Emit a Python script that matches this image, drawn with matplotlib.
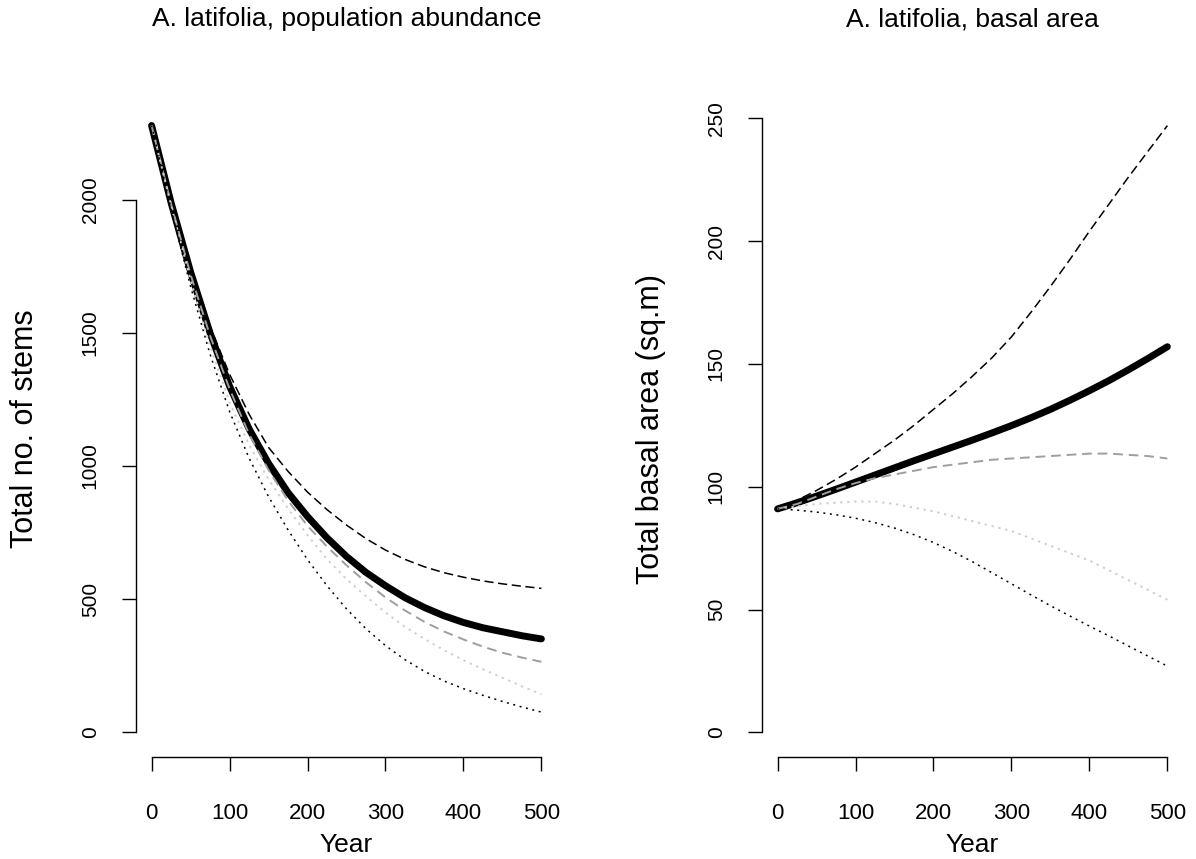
import matplotlib
matplotlib.use("Agg")
import matplotlib.pyplot as plt
import matplotlib.transforms as mtransforms

plt.rcParams['font.family'] = ['Liberation Sans', 'DejaVu Sans']

years = [0, 25, 50, 75, 100, 125, 150, 175, 200, 225, 250,
         275, 300, 325, 350, 375, 400, 425, 450, 475, 500]

# total number of stems per scenario
stems_base = [2280, 1990, 1730, 1500, 1300, 1140, 1010, 900, 810, 730, 660,
              600, 550, 505, 468, 437, 412, 392, 377, 362, 350]
stems_high = [2280, 1990, 1740, 1525, 1345, 1195, 1070, 980, 902, 836, 778,
              727, 684, 649, 621, 599, 582, 568, 557, 548, 540]
stems_mid = [2280, 1985, 1720, 1490, 1290, 1120, 985, 870, 775, 697, 627,
             563, 506, 457, 414, 378, 348, 321, 298, 280, 264]
stems_lowmid = [2280, 1980, 1700, 1450, 1240, 1080, 950, 840, 740, 650, 575,
                510, 450, 395, 350, 308, 270, 236, 204, 172, 142]
stems_low = [2280, 1965, 1675, 1420, 1205, 1030, 885, 760, 648, 550, 463,
             388, 325, 272, 228, 192, 163, 138, 115, 94, 75]

# total basal area per scenario
ba_base = [91, 93.5, 96.2, 99, 101.9, 104.8, 107.7, 110.6, 113.4, 116.2, 119,
           121.9, 124.9, 128.1, 131.5, 135.2, 139.1, 143.2, 147.6, 152.2, 157]
ba_high = [91, 94.5, 98.5, 103, 108, 113.5, 119, 125, 131.5, 138, 145,
           152.5, 161, 171, 181.5, 192.5, 204, 215, 226, 236.5, 247]
ba_mid = [91, 93, 96, 99, 101.5, 103.5, 105, 106.5, 108, 109, 110,
          111, 111.5, 112, 112.5, 113, 113.5, 113.5, 113, 112.5, 111.5]
ba_lowmid = [91, 92, 93, 93.5, 94, 94, 93, 91.5, 90, 88, 86,
             84, 82, 79, 76, 73, 70, 66, 62, 58, 54]
ba_low = [91, 90.5, 89.7, 88.6, 87.2, 85.4, 83.2, 80.5, 77.3, 73.6, 69.5,
          65, 60.5, 56, 51.6, 47.4, 43.3, 39.3, 35.2, 31.1, 27]

fig = plt.figure(figsize=(11.96, 8.59), dpi=100)
ax1 = fig.add_axes([0.1137, 0.1187, 0.352, 0.7637])
ax2 = fig.add_axes([0.6371, 0.1187, 0.352, 0.7637])


def draw_panel(ax, base, high, mid, lowmid, low):
    ax.plot(years, base, color="black", lw=5, solid_capstyle="round",
            solid_joinstyle="round", zorder=2)
    ax.plot(years, high, color="black", lw=1.1, ls=(0, (6, 3)), zorder=3)
    ax.plot(years, mid, color="#9e9e9e", lw=1.4, ls=(0, (5, 3)), zorder=3)
    ax.plot(years, lowmid, color="#cfcfcf", lw=1.4, ls=(0, (1.2, 2.4)), zorder=3)
    ax.plot(years, low, color="black", lw=1.1, ls=(0, (1.3, 3)), zorder=3)


def style_axes(ax, yticks, title, ylabel):
    ax.spines["top"].set_visible(False)
    ax.spines["right"].set_visible(False)
    ax.spines["left"].set_bounds(yticks[0], yticks[-1])
    ax.spines["bottom"].set_bounds(0, 500)
    ax.spines["left"].set_linewidth(1.0)
    ax.spines["bottom"].set_linewidth(1.0)
    ax.set_xticks([0, 100, 200, 300, 400, 500])
    ax.set_yticks(yticks)
    ax.set_yticklabels([str(v) for v in yticks], rotation=90, va="center")
    ax.tick_params(axis="x", length=10, width=1.0, pad=23, labelsize=16)
    ax.tick_params(axis="y", length=10, width=1.0, pad=16, labelsize=15)
    ax.set_xlim(-20, 520)
    ax.set_xlabel("Year", fontsize=19, va="center")
    ax.xaxis.set_label_coords(0.5, -0.134)
    ax.set_ylabel(ylabel, fontsize=22, va="center")
    ax.yaxis.set_label_coords(-0.264, 0.5)
    # title sits near the top edge of the figure
    ax.set_title(title, fontsize=19, pad=0, y=1.0, va="center")
    ax.title.set_transform(mtransforms.blended_transform_factory(
        ax.transAxes, fig.transFigure))
    ax.title.set_position((0.5, 1 - 19 / 859))


draw_panel(ax1, stems_base, stems_high, stems_mid, stems_lowmid, stems_low)
style_axes(ax1, [0, 500, 1000, 1500, 2000],
           "A. latifolia, population abundance", "Total no. of stems")
ax1.set_ylim(-94, 2372)

draw_panel(ax2, ba_base, ba_high, ba_mid, ba_lowmid, ba_low)
style_axes(ax2, [0, 50, 100, 150, 200, 250],
           "A. latifolia, basal area", "Total basal area (sq.m)")
ax2.set_ylim(-10, 257)

fig.savefig("out.png", dpi=100)
